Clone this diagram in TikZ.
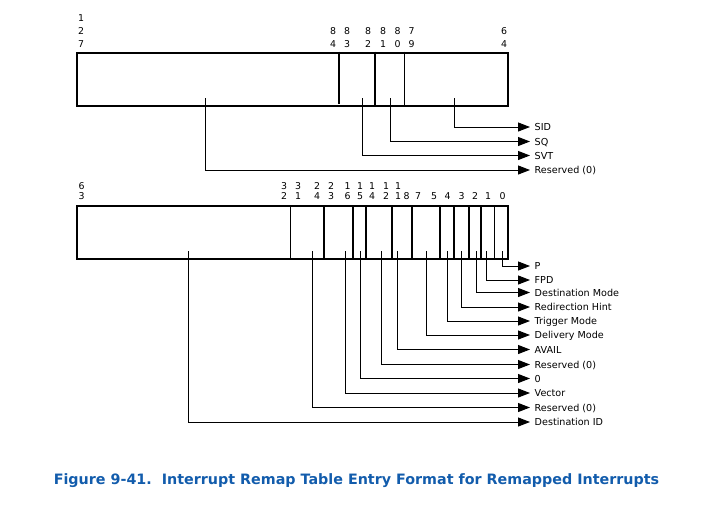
\documentclass[tikz,border=0pt]{standalone}
\usepackage{fontspec}
\setmainfont{DejaVu Sans}
\usetikzlibrary{arrows.meta}
\definecolor{capblue}{RGB}{18,92,172}
\tikzset{
  fieldbox/.style={draw, line width=2pt, inner sep=0pt, minimum width=430.4pt, minimum height=53pt},
  thk/.style={line width=2pt},
  thn/.style={line width=1pt},
  conn/.style={line width=1pt, -{Triangle[length=12pt,width=9pt]}},
  lab/.style={anchor=west, inner xsep=4.5pt, inner ysep=0pt, text height=9pt, text depth=1.5pt, font=\fontsize{9.6}{10}\selectfont},
  bitsA/.style={inner sep=0pt, align=center, font=\fontsize{9.4}{13}\selectfont},
  bitsB/.style={inner sep=0pt, align=center, font=\fontsize{9.4}{10.5}\selectfont},
  captext/.style={font=\fontsize{14.3}{16}\bfseries\selectfont, text=capblue, inner sep=0pt}
}
\begin{document}
\begin{tikzpicture}[x=1pt,y=-1pt]
\useasboundingbox (0,0) rectangle (728,512);

% ---------- upper entry (bits 127..64) ----------
\node[fieldbox] (top) at (292.5,79.2) {};
\draw[thk] (339.3,0 |- top.north) -- (339.3,104);
\draw[thk] (375.3,0 |- top.north) -- (375.3,0 |- top.south);
\draw[thn] (404,0 |- top.north) -- (404,0 |- top.south);

\node[bitsA] (b127) at (81,31.5) {1\\2\\7};
\node[bitsA] (b84) at (333,38) {8\\4};
\node[bitsA] (b83) at (347,38) {8\\3};
\node[bitsA] (b82) at (368,38) {8\\2};
\node[bitsA] (b81) at (383,38) {8\\1};
\node[bitsA] (b80) at (397.5,38) {8\\0};
\node[bitsA] (b79) at (411.5,38) {7\\9};
\node[bitsA] (b64) at (504,38) {6\\4};

\coordinate (tres1) at (205.3,98);
\coordinate (tsvt) at (362.3,98);
\coordinate (tsq) at (390.3,98);
\coordinate (tsid) at (454.3,98);

\node[lab] (lsid) at (530,127) {SID};
\node[lab] (lsq) at (530,141.5) {SQ};
\node[lab] (lsvt) at (530,155.5) {SVT};
\node[lab] (lres1) at (530,170) {Reserved (0)};

\draw[conn] (tsid) |- (lsid.west);
\draw[conn] (tsq) |- (lsq.west);
\draw[conn] (tsvt) |- (lsvt.west);
\draw[conn] (tres1) |- (lres1.west);

% ---------- lower entry (bits 63..0) ----------
\node[fieldbox] (bot) at (292.5,232.6) {};
\draw[thn] (290.7,0 |- bot.north) -- (290.7,0 |- bot.south);
\foreach \x in {323.7,353,366.3,392.3,411.7,440,454,468.7,481}
  \draw[thk] (\x,0 |- bot.north) -- (\x,0 |- bot.south);
\draw[thn] (494.3,0 |- bot.north) -- (494.3,0 |- bot.south);

\node[bitsB] (c63) at (81.5,191.2) {6\\3};
\node[bitsB] (c32) at (284,191.2) {3\\2};
\node[bitsB] (c31) at (298,191.2) {3\\1};
\node[bitsB] (c24) at (317,191.2) {2\\4};
\node[bitsB] (c23) at (331,191.2) {2\\3};
\node[bitsB] (c16) at (347.5,191.2) {1\\6};
\node[bitsB] (c15) at (360,191.2) {1\\5};
\node[bitsB] (c14) at (372,191.2) {1\\4};
\node[bitsB] (c12) at (386,191.2) {1\\2};
\node[bitsB] (c11) at (398,191.2) {1\\1};
\node[bitsB] (c8) at (406.5,196.5) {8};
\node[bitsB] (c7) at (418,196.5) {7};
\node[bitsB] (c5) at (434,196.5) {5};
\node[bitsB] (c4) at (447.5,196.5) {4};
\node[bitsB] (c3) at (461.5,196.5) {3};
\node[bitsB] (c2) at (475,196.5) {2};
\node[bitsB] (c1) at (488,196.5) {1};
\node[bitsB] (c0) at (502.5,196.5) {0};

\coordinate (udid) at (188.3,251);
\coordinate (ures2) at (312.7,251);
\coordinate (uvec) at (345.7,251);
\coordinate (uzero) at (360.7,251);
\coordinate (ures3) at (381.3,251);
\coordinate (uavail) at (397.7,251);
\coordinate (udlm) at (426.7,251);
\coordinate (utm) at (447.3,251);
\coordinate (urh) at (461.7,251);
\coordinate (udm) at (476.7,251);
\coordinate (ufpd) at (486.7,251);
\coordinate (up) at (502.7,251);

\node[lab] (lp) at (530,266) {P};
\node[lab] (lfpd) at (530,280) {FPD};
\node[lab] (ldm) at (530,292.5) {Destination Mode};
\node[lab] (lrh) at (530,307) {Redirection Hint};
\node[lab] (ltm) at (530,321) {Trigger Mode};
\node[lab] (ldlm) at (530,335) {Delivery Mode};
\node[lab] (lavail) at (530,349.5) {AVAIL};
\node[lab] (lres3) at (530,364.5) {Reserved (0)};
\node[lab] (lzero) at (530,378.5) {0};
\node[lab] (lvec) at (530,393) {Vector};
\node[lab] (lres2) at (530,407.5) {Reserved (0)};
\node[lab] (ldid) at (530,422) {Destination ID};

\draw[conn] (up) |- (lp.west);
\draw[conn] (ufpd) |- (lfpd.west);
\draw[conn] (udm) |- (ldm.west);
\draw[conn] (urh) |- (lrh.west);
\draw[conn] (utm) |- (ltm.west);
\draw[conn] (udlm) |- (ldlm.west);
\draw[conn] (uavail) |- (lavail.west);
\draw[conn] (ures3) |- (lres3.west);
\draw[conn] (uzero) |- (lzero.west);
\draw[conn] (uvec) |- (lvec.west);
\draw[conn] (ures2) |- (lres2.west);
\draw[conn] (udid) |- (ldid.west);

% ---------- caption ----------
\node[captext] (caption) at (356.5,481) {Figure 9-41.\ \ Interrupt Remap Table Entry Format for Remapped Interrupts};
\end{tikzpicture}
\end{document}
